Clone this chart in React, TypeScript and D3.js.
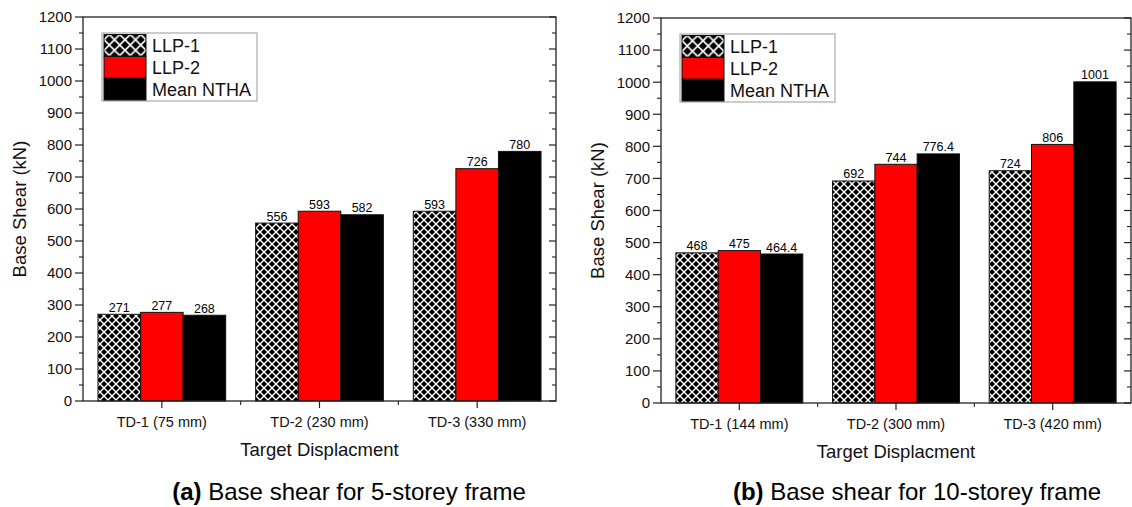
import React from 'react';
import * as d3 from 'd3';

// ---- data ----
const seriesNames = ['LLP-1', 'LLP-2', 'Mean NTHA'];

const categoriesA = ['TD-1 (75 mm)', 'TD-2 (230 mm)', 'TD-3 (330 mm)'];
const llp1A = [271, 556, 593];
const llp2A = [277, 593, 726];
const meanA = [268, 582, 780];

const categoriesB = ['TD-1 (144 mm)', 'TD-2 (300 mm)', 'TD-3 (420 mm)'];
const llp1B = [468, 692, 724];
const llp2B = [475, 744, 806];
const meanB = [464.4, 776.4, 1001];

const yMajorTicks = [0, 100, 200, 300, 400, 500, 600, 700, 800, 900, 1000, 1100, 1200];
const yMinorTicks = [50, 150, 250, 350, 450, 550, 650, 750, 850, 950, 1050, 1150];

const yTitle = 'Base Shear (kN)';
const xTitle = 'Target Displacment';
const captionA = { tag: '(a)', text: ' Base shear for 5-storey frame' };
const captionB = { tag: '(b)', text: ' Base shear for 10-storey frame' };

const FONT = '"Liberation Sans", Arial, Helvetica, sans-serif';
const FILLS = ['url(#hatch)', '#ff0000', '#000000'];
const LEGEND_FILLS = ['url(#hatchLegend)', '#ff0000', '#000000'];

type PanelProps = {
  left: number;
  right: number;
  top: number;
  bottom: number;
  categories: string[];
  series: number[][];
  caption: { tag: string; text: string };
  captionX: number;
};

function Panel({ left, right, top, bottom, categories, series, caption, captionX }: PanelProps) {
  const x = d3
    .scaleBand<string>()
    .domain(categories)
    .range([left, right])
    .paddingInner(0.19)
    .paddingOuter(0.095);
  const sub = d3
    .scaleBand<string>()
    .domain(seriesNames)
    .range([0, x.bandwidth()])
    .padding(0);
  const y = d3.scaleLinear().domain([0, 1200]).range([bottom, top]);

  const step = x.step();
  const boundaries = categories.slice(1).map((c) => (x(c) as number) - (step - x.bandwidth()) / 2);

  const midY = (top + bottom) / 2;

  return (
    <g fontFamily={FONT}>
      {/* bars */}
      {categories.map((c, ci) => (
        <g key={c}>
          {seriesNames.map((s, si) => {
            const v = series[si][ci];
            const bx = (x(c) as number) + (sub(s) as number);
            return (
              <g key={s}>
                <rect
                  x={bx}
                  y={y(v)}
                  width={sub.bandwidth()}
                  height={y(0) - y(v)}
                  fill={FILLS[si]}
                  stroke="#111"
                  strokeWidth={1}
                />
                <text
                  x={bx + sub.bandwidth() / 2}
                  y={y(v) - 2.5}
                  textAnchor="middle"
                  fontSize={12.5}
                  fill="#000"
                >
                  {String(v)}
                </text>
              </g>
            );
          })}
        </g>
      ))}

      {/* frame */}
      <rect x={left} y={top} width={right - left} height={bottom - top} fill="none" stroke="#222" strokeWidth={1.3} />

      {/* y axis ticks */}
      {yMajorTicks.map((t) => (
        <g key={'ym' + t}>
          <line x1={left - 8} x2={left} y1={y(t)} y2={y(t)} stroke="#222" strokeWidth={1.2} />
          <line x1={right - 7} x2={right} y1={y(t)} y2={y(t)} stroke="#222" strokeWidth={1.2} />
          <text x={left - 11} y={y(t)} dy="0.36em" textAnchor="end" fontSize={15} fill="#111">
            {t}
          </text>
        </g>
      ))}
      {yMinorTicks.map((t) => (
        <g key={'yn' + t}>
          <line x1={left - 4} x2={left} y1={y(t)} y2={y(t)} stroke="#222" strokeWidth={1.1} />
          <line x1={right - 4} x2={right} y1={y(t)} y2={y(t)} stroke="#222" strokeWidth={1.1} />
        </g>
      ))}

      {/* x axis ticks */}
      {categories.map((c) => {
        const cx = (x(c) as number) + x.bandwidth() / 2;
        return (
          <g key={'xt' + c}>
            <line x1={cx} x2={cx} y1={bottom} y2={bottom + 7} stroke="#222" strokeWidth={1.2} />
            <text x={cx} y={bottom + 25.5} textAnchor="middle" fontSize={14.5} fill="#111">
              {c}
            </text>
          </g>
        );
      })}
      {boundaries.map((bx, i) => (
        <line key={'xb' + i} x1={bx} x2={bx} y1={bottom} y2={bottom + 4} stroke="#222" strokeWidth={1.1} />
      ))}

      {/* titles */}
      <text
        transform={`translate(${left - 57},${midY}) rotate(-90)`}
        textAnchor="middle"
        fontSize={18.5}
        fill="#111"
      >
        {yTitle}
      </text>
      <text x={(left + right) / 2} y={bottom + 55} textAnchor="middle" fontSize={18.5} fill="#111">
        {xTitle}
      </text>
      <text x={captionX} y={500} textAnchor="middle" fontSize={24} fill="#000">
        <tspan fontWeight="bold">{caption.tag}</tspan>
        <tspan>{caption.text}</tspan>
      </text>

      {/* legend */}
      <g transform={`translate(${left + 19},${top + 16})`}>
        <rect x={0} y={0} width={155} height={68} fill="#fff" stroke="#999" strokeWidth={1} />
        {seriesNames.map((s, i) => (
          <g key={'lg' + s} transform={`translate(2,${1.5 + i * 22})`}>
            <rect x={0} y={0} width={42} height={21.5} fill={LEGEND_FILLS[i]} stroke="#111" strokeWidth={1} />
            <text x={48} y={17} fontSize={18} fill="#111">
              {s}
            </text>
          </g>
        ))}
      </g>
    </g>
  );
}

export default function App() {
  return (
    <svg
      width={1132}
      height={507}
      viewBox="0 0 1132 507"
      style={{ position: 'absolute', left: 0, top: 0, background: '#fff' }}
    >
      <defs>
        <pattern id="hatch" patternUnits="userSpaceOnUse" width={8} height={8}>
          <rect width={8} height={8} fill="#fff" />
          <path d="M4 1 L7 4 L4 7 L1 4 Z" fill="#000" />
          <path d="M0 -3 L3 0 L0 3 L-3 0 Z" fill="#000" />
          <path d="M8 -3 L11 0 L8 3 L5 0 Z" fill="#000" />
          <path d="M0 5 L3 8 L0 11 L-3 8 Z" fill="#000" />
          <path d="M8 5 L11 8 L8 11 L5 8 Z" fill="#000" />
        </pattern>
        <pattern id="hatchLegend" patternUnits="userSpaceOnUse" width={10.5} height={10.5}>
          <rect width={10.5} height={10.5} fill="#fff" />
          <path d="M5.25 1.2 L9.3 5.25 L5.25 9.3 L1.2 5.25 Z" fill="#000" />
          <path d="M0 -4.05 L4.05 0 L0 4.05 L-4.05 0 Z" fill="#000" />
          <path d="M10.5 -4.05 L14.55 0 L10.5 4.05 L6.45 0 Z" fill="#000" />
          <path d="M0 6.45 L4.05 10.5 L0 14.55 L-4.05 10.5 Z" fill="#000" />
          <path d="M10.5 6.45 L14.55 10.5 L10.5 14.55 L6.45 10.5 Z" fill="#000" />
        </pattern>
      </defs>
      <rect width={1132} height={507} fill="#fff" />
      <Panel
        left={83}
        right={556}
        top={17}
        bottom={401}
        categories={categoriesA}
        series={[llp1A, llp2A, meanA]}
        caption={captionA}
        captionX={349}
      />
      <Panel
        left={661}
        right={1131}
        top={18}
        bottom={403}
        categories={categoriesB}
        series={[llp1B, llp2B, meanB]}
        caption={captionB}
        captionX={917}
      />
    </svg>
  );
}
